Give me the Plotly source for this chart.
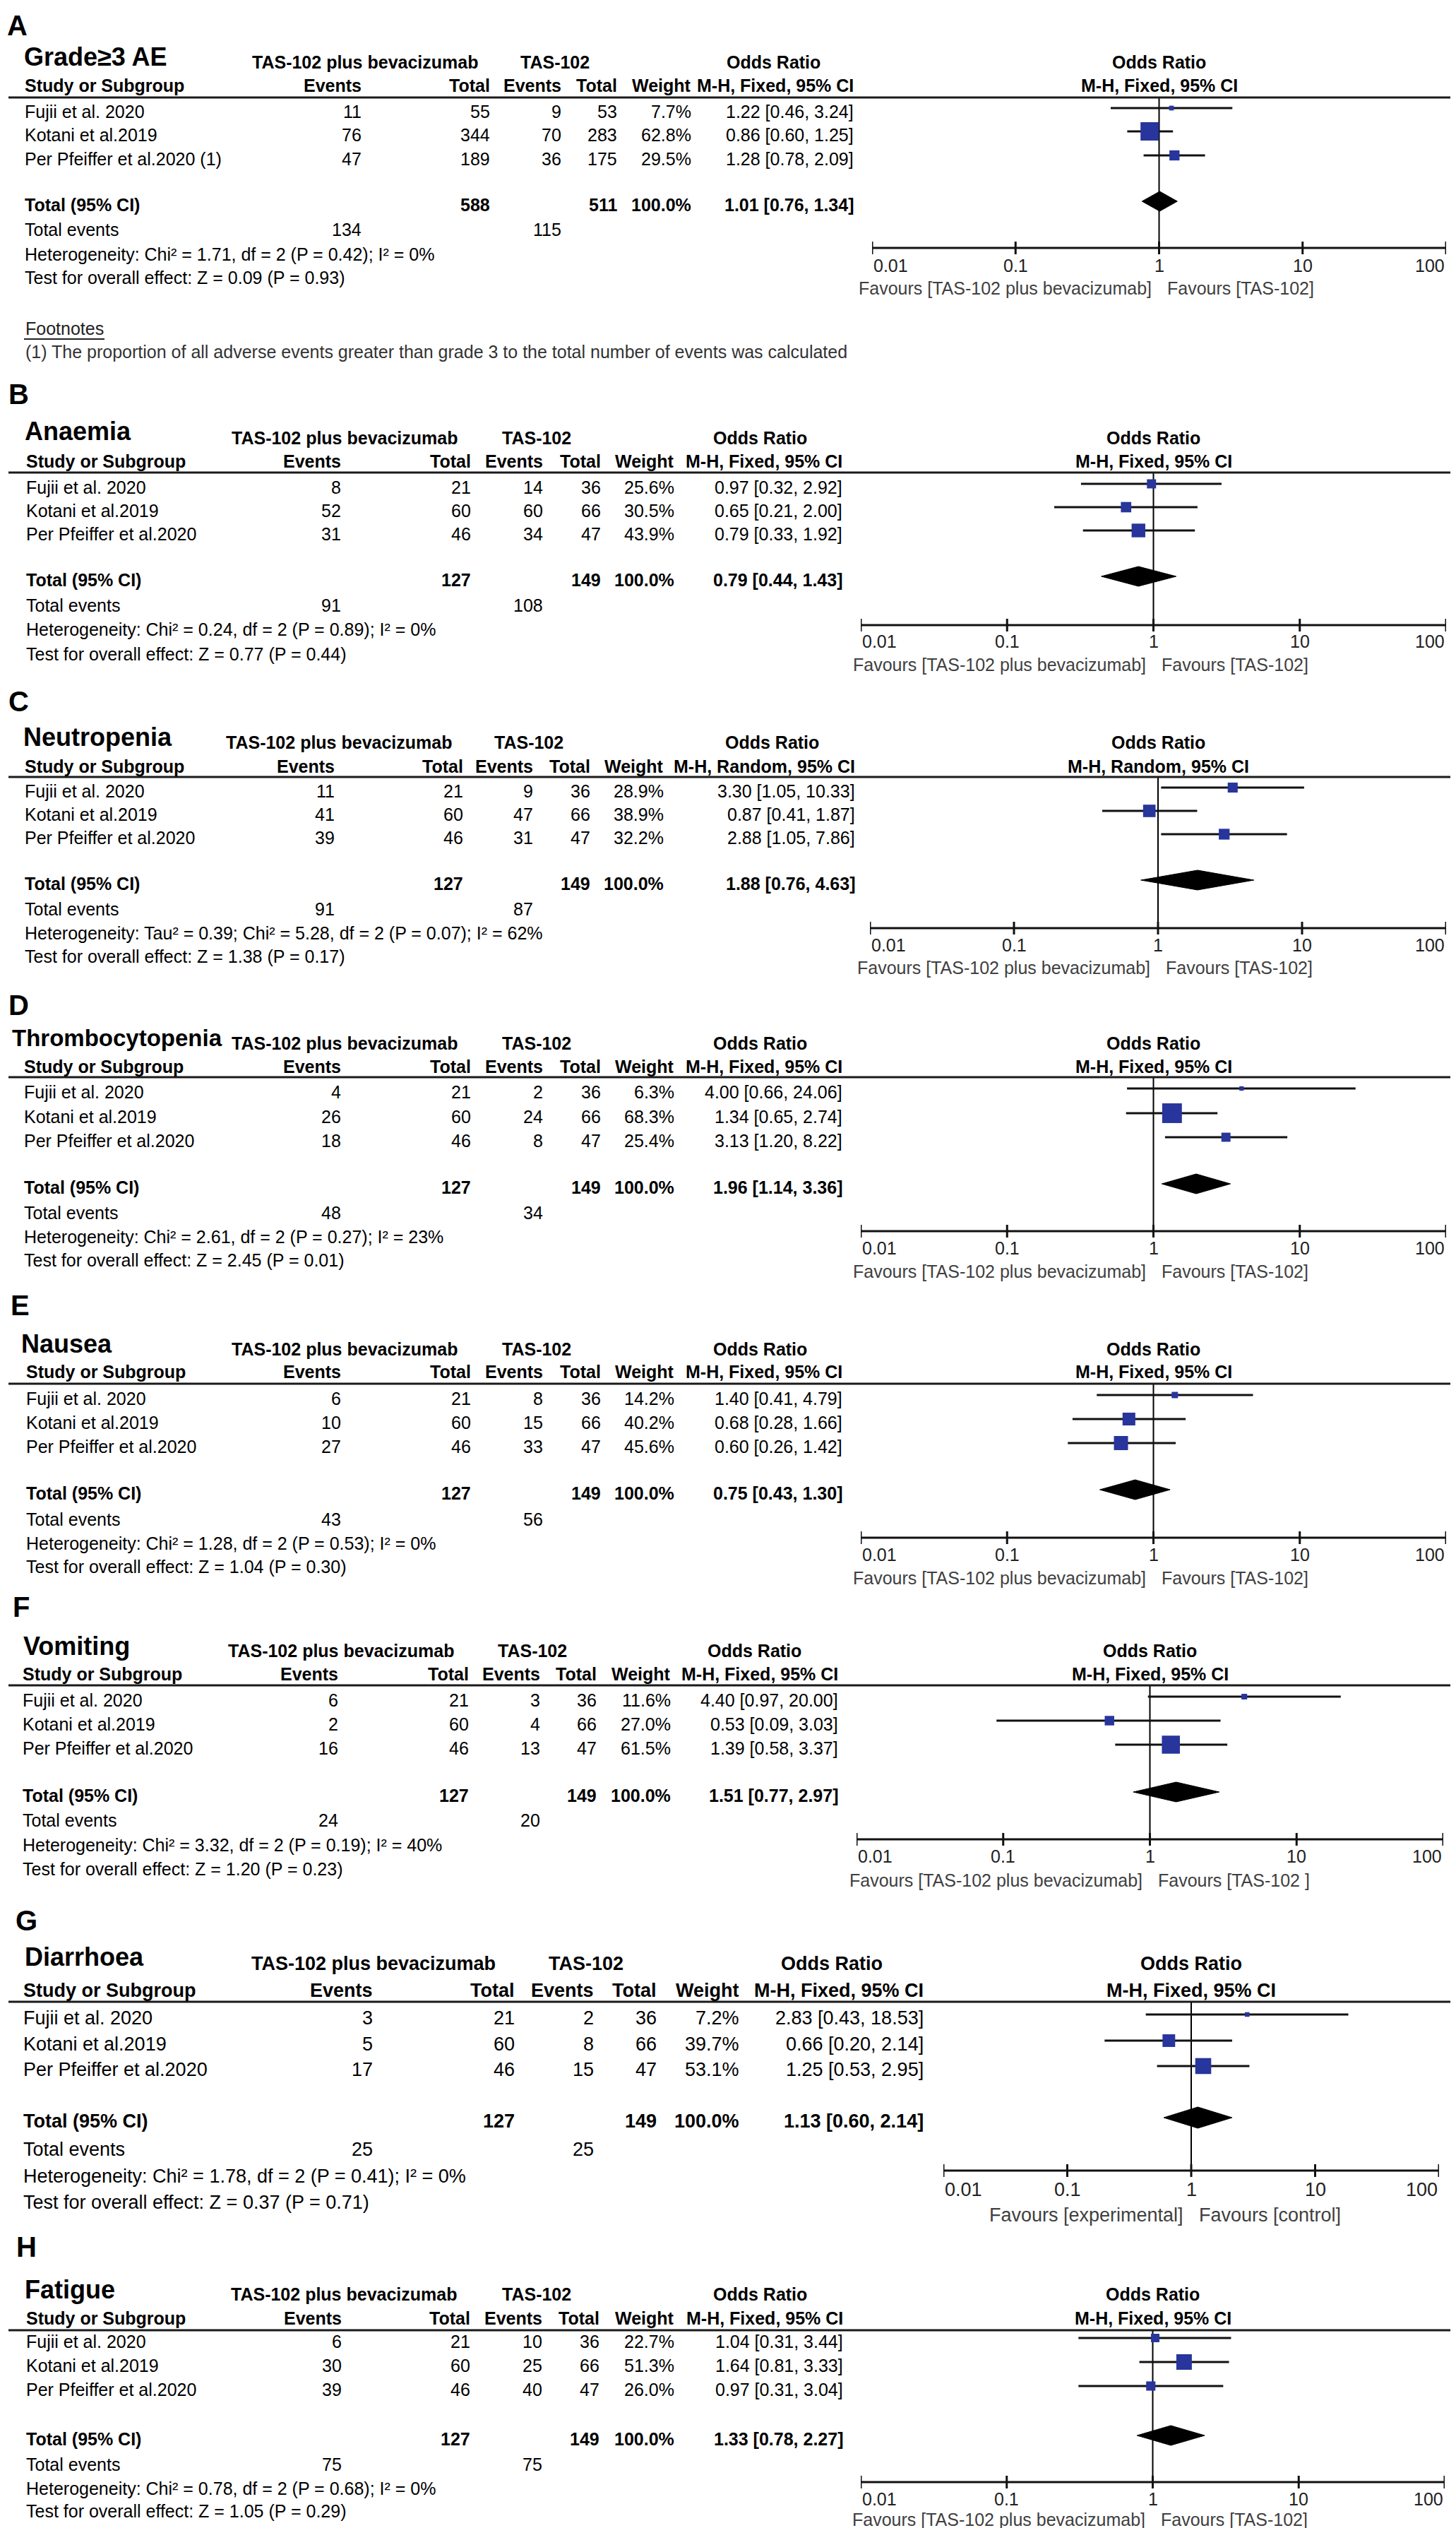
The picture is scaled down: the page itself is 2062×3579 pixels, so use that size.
import math
import plotly.graph_objects as go

W, H = 2062, 3579
FONT = "Liberation Sans, Arial, sans-serif"

# ---------------- data ----------------
panel_letters = ["A", "B", "C", "D", "E", "F", "G", "H"]
outcomes = ["Grade≥3 AE", "Anaemia", "Neutropenia", "Thrombocytopenia",
            "Nausea", "Vomiting", "Diarrhoea", "Fatigue"]
study_names = ["Fujii et al. 2020", "Kotani et al.2019", "Per Pfeiffer et al.2020"]
study_names_A = ["Fujii et al. 2020", "Kotani et al.2019", "Per Pfeiffer et al.2020 (1)"]

exp_events = [[11, 76, 47], [8, 52, 31], [11, 41, 39], [4, 26, 18],
              [6, 10, 27], [6, 2, 16], [3, 5, 17], [6, 30, 39]]
exp_totals = [[55, 344, 189], [21, 60, 46], [21, 60, 46], [21, 60, 46],
              [21, 60, 46], [21, 60, 46], [21, 60, 46], [21, 60, 46]]
ctl_events = [[9, 70, 36], [14, 60, 34], [9, 47, 31], [2, 24, 8],
              [8, 15, 33], [3, 4, 13], [2, 8, 15], [10, 25, 40]]
ctl_totals = [[53, 283, 175], [36, 66, 47], [36, 66, 47], [36, 66, 47],
              [36, 66, 47], [36, 66, 47], [36, 66, 47], [36, 66, 47]]
weights = [[7.7, 62.8, 29.5], [25.6, 30.5, 43.9], [28.9, 38.9, 32.2], [6.3, 68.3, 25.4],
           [14.2, 40.2, 45.6], [11.6, 27.0, 61.5], [7.2, 39.7, 53.1], [22.7, 51.3, 26.0]]
or_est = [[1.22, 0.86, 1.28], [0.97, 0.65, 0.79], [3.30, 0.87, 2.88], [4.00, 1.34, 3.13],
          [1.40, 0.68, 0.60], [4.40, 0.53, 1.39], [2.83, 0.66, 1.25], [1.04, 1.64, 0.97]]
or_lo = [[0.46, 0.60, 0.78], [0.32, 0.21, 0.33], [1.05, 0.41, 1.05], [0.66, 0.65, 1.20],
         [0.41, 0.28, 0.26], [0.97, 0.09, 0.58], [0.43, 0.20, 0.53], [0.31, 0.81, 0.31]]
or_hi = [[3.24, 1.25, 2.09], [2.92, 2.00, 1.92], [10.33, 1.87, 7.86], [24.06, 2.74, 8.22],
         [4.79, 1.66, 1.42], [20.00, 3.03, 3.37], [18.53, 2.14, 2.95], [3.44, 3.33, 3.04]]
pooled_or = [1.01, 0.79, 1.88, 1.96, 0.75, 1.51, 1.13, 1.33]
pooled_lo = [0.76, 0.44, 0.76, 1.14, 0.43, 0.77, 0.60, 0.78]
pooled_hi = [1.34, 1.43, 4.63, 3.36, 1.30, 2.97, 2.14, 2.27]
exp_total_n = [588, 127, 127, 127, 127, 127, 127, 127]
ctl_total_n = [511, 149, 149, 149, 149, 149, 149, 149]
exp_total_events = [134, 91, 91, 48, 43, 24, 25, 75]
ctl_total_events = [115, 108, 87, 34, 56, 20, 25, 75]
heterogeneity = [
    "Heterogeneity: Chi² = 1.71, df = 2 (P = 0.42); I² = 0%",
    "Heterogeneity: Chi² = 0.24, df = 2 (P = 0.89); I² = 0%",
    "Heterogeneity: Tau² = 0.39; Chi² = 5.28, df = 2 (P = 0.07); I² = 62%",
    "Heterogeneity: Chi² = 2.61, df = 2 (P = 0.27); I² = 23%",
    "Heterogeneity: Chi² = 1.28, df = 2 (P = 0.53); I² = 0%",
    "Heterogeneity: Chi² = 3.32, df = 2 (P = 0.19); I² = 40%",
    "Heterogeneity: Chi² = 1.78, df = 2 (P = 0.41); I² = 0%",
    "Heterogeneity: Chi² = 0.78, df = 2 (P = 0.68); I² = 0%",
]
overall_test = [
    "Test for overall effect: Z = 0.09 (P = 0.93)",
    "Test for overall effect: Z = 0.77 (P = 0.44)",
    "Test for overall effect: Z = 1.38 (P = 0.17)",
    "Test for overall effect: Z = 2.45 (P = 0.01)",
    "Test for overall effect: Z = 1.04 (P = 0.30)",
    "Test for overall effect: Z = 1.20 (P = 0.23)",
    "Test for overall effect: Z = 0.37 (P = 0.71)",
    "Test for overall effect: Z = 1.05 (P = 0.29)",
]
methods = ["M-H, Fixed, 95% CI", "M-H, Fixed, 95% CI", "M-H, Random, 95% CI", "M-H, Fixed, 95% CI",
           "M-H, Fixed, 95% CI", "M-H, Fixed, 95% CI", "M-H, Fixed, 95% CI", "M-H, Fixed, 95% CI"]
favours_left = ["Favours [TAS-102 plus bevacizumab]"] * 6 + ["Favours [experimental]",
                                                            "Favours [TAS-102 plus bevacizumab]"]
favours_right = ["Favours [TAS-102]"] * 5 + ["Favours [TAS-102 ]", "Favours [control]", "Favours [TAS-102]"]
tick_values = [0.01, 0.1, 1, 10, 100]
tick_labels = ["0.01", "0.1", "1", "10", "100"]
footnote = "(1) The proportion of all adverse events greater than grade 3 to the total number of events was calculated"

# ---------------- layout geometry (pixels) ----------------
geom = [
    dict(lab=(0, 28), tit=(24, 72, 36), h1=80, h2=113, line=126, rows=[150, 183, 217], total=282, tev=317,
         het=352, test=385, axis=343, tlab=368, fav=400, sx=25, cols=[506, 688, 789, 868, 973, 1203],
         tas=509, tas2=778, orh=1087, ax=(1227, 2040), fs=25),
    dict(lab=(2, 550), tit=(25, 602, 36), h1=612, h2=645, line=657, rows=[682, 715, 748], total=813, tev=849,
         het=883, test=918, axis=877, tlab=900, fav=933, sx=27, cols=[477, 661, 763, 845, 949, 1187],
         tas=480, tas2=752, orh=1068, ax=(1211, 2040), fs=25),
    dict(lab=(2, 985), tit=(23, 1035, 36), h1=1043, h2=1077, line=1088, rows=[1112, 1145, 1178], total=1243,
         tev=1279, het=1313, test=1346, axis=1306, tlab=1330, fav=1362, sx=25,
         cols=[468, 650, 749, 830, 934, 1205], tas=472, tas2=741, orh=1085, ax=(1224, 2040), fs=25),
    dict(lab=(2, 1415), tit=(7, 1461, 33), h1=1469, h2=1502, line=1513, rows=[1538, 1573, 1607], total=1673,
         tev=1709, het=1743, test=1776, axis=1735, tlab=1759, fav=1792, sx=24,
         cols=[477, 661, 763, 845, 949, 1187], tas=480, tas2=752, orh=1068, ax=(1211, 2040), fs=25),
    dict(lab=(5, 1840), tit=(20, 1894, 36), h1=1902, h2=1934, line=1947, rows=[1972, 2006, 2040], total=2106,
         tev=2143, het=2177, test=2210, axis=2169, tlab=2193, fav=2226, sx=27,
         cols=[477, 661, 763, 845, 949, 1187], tas=480, tas2=752, orh=1068, ax=(1211, 2040), fs=25),
    dict(lab=(8, 2267), tit=(23, 2322, 36), h1=2329, h2=2362, line=2374, rows=[2399, 2433, 2467], total=2534,
         tev=2569, het=2604, test=2638, axis=2596, tlab=2620, fav=2654, sx=22,
         cols=[473, 658, 759, 839, 944, 1181], tas=475, tas2=746, orh=1060, ax=(1205, 2036), fs=25),
    dict(lab=(12, 2711), tit=(25, 2762, 36), h1=2772, h2=2810, line=2822, rows=[2849, 2886, 2922], total=2995,
         tev=3035, het=3073, test=3110, axis=3065, tlab=3092, fav=3128, sx=23,
         cols=[522, 723, 835, 924, 1041, 1302], tas=521, tas2=822, orh=1170, ax=(1328, 2030), fs=27),
    dict(lab=(13, 3173), tit=(25, 3233, 36), h1=3240, h2=3274, line=3287, rows=[3307, 3341, 3375], total=3445,
         tev=3481, het=3515, test=3547, axis=3506, tlab=3530, fav=3559, sx=27,
         cols=[478, 660, 762, 843, 949, 1188], tas=479, tas2=752, orh=1068, ax=(1211, 2038), fs=25),
]

BLUE = "#27359c"
GREY = "#404040"

fig = go.Figure()
anns = []
shapes = []


def txt(s, x, y, anchor="left", size=25, bold=False, color="#000000"):
    anns.append(dict(text=(f"<b>{s}</b>" if bold else s), x=x / W, y=y, xref="paper", yref="y",
                     xanchor=anchor, yanchor="middle", showarrow=False,
                     font=dict(size=size, color=color, family=FONT)))


layout_axes = {}
for k in range(8):
    g = geom[k]
    fs = g["fs"]
    xa = "x" if k == 0 else f"x{k + 1}"
    xkey = "xaxis" if k == 0 else f"xaxis{k + 1}"
    layout_axes[xkey] = dict(type="log", range=[-2, 2], domain=[g["ax"][0] / W, g["ax"][1] / W],
                             anchor="y", visible=False, fixedrange=True)
    names = study_names_A if k == 0 else study_names

    # panel letter and title
    txt(panel_letters[k], g["lab"][0], g["lab"][1], size=40, bold=True)
    txt(outcomes[k], g["tit"][0], g["tit"][1], size=g["tit"][2], bold=True)

    # column headers
    c = g["cols"]
    txt("TAS-102 plus bevacizumab", g["tas"], g["h1"], "center", fs, True)
    txt("TAS-102", g["tas2"], g["h1"], "center", fs, True)
    txt("Odds Ratio", g["orh"], g["h1"], "center", fs, True)
    txt("Study or Subgroup", g["sx"], g["h2"], "left", fs, True)
    txt("Events", c[0], g["h2"], "right", fs, True)
    txt("Total", c[1], g["h2"], "right", fs, True)
    txt("Events", c[2], g["h2"], "right", fs, True)
    txt("Total", c[3], g["h2"], "right", fs, True)
    txt("Weight", c[4], g["h2"], "right", fs, True)
    txt(methods[k], c[5], g["h2"], "right", fs, True)
    # forest column headers
    for s, yy in [("Odds Ratio", g["h1"]), (methods[k], g["h2"])]:
        anns.append(dict(text=f"<b>{s}</b>", x=0, y=yy, xref=xa, yref="y", xanchor="center", yanchor="middle",
                         showarrow=False, font=dict(size=fs, color="#000", family=FONT)))
    shapes.append(dict(type="line", xref="paper", yref="y", x0=4 / W, x1=1, y0=g["line"] + 4, y1=g["line"] + 4,
                       line=dict(color="#1a1a1a", width=3)))

    # study rows
    for i in range(3):
        yy = g["rows"][i]
        txt(names[i], g["sx"], yy, "left", fs)
        txt(str(exp_events[k][i]), c[0], yy, "right", fs)
        txt(str(exp_totals[k][i]), c[1], yy, "right", fs)
        txt(str(ctl_events[k][i]), c[2], yy, "right", fs)
        txt(str(ctl_totals[k][i]), c[3], yy, "right", fs)
        txt(f"{weights[k][i]:.1f}%", c[4], yy, "right", fs)
        txt(f"{or_est[k][i]:.2f} [{or_lo[k][i]:.2f}, {or_hi[k][i]:.2f}]", c[5], yy, "right", fs)

    # totals
    txt("Total (95% CI)", g["sx"], g["total"], "left", fs, True)
    txt(str(exp_total_n[k]), c[1], g["total"], "right", fs, True)
    txt(str(ctl_total_n[k]), c[3], g["total"], "right", fs, True)
    txt("100.0%", c[4], g["total"], "right", fs, True)
    txt(f"{pooled_or[k]:.2f} [{pooled_lo[k]:.2f}, {pooled_hi[k]:.2f}]", c[5], g["total"], "right", fs, True)
    txt("Total events", g["sx"], g["tev"], "left", fs)
    txt(str(exp_total_events[k]), c[0], g["tev"], "right", fs)
    txt(str(ctl_total_events[k]), c[2], g["tev"], "right", fs)
    txt(heterogeneity[k], g["sx"], g["het"], "left", fs)
    txt(overall_test[k], g["sx"], g["test"], "left", fs)

    # ---- forest plot marks ----
    # line of no effect
    fig.add_trace(go.Scatter(x=[1, 1], y=[g["line"] + 5, g["axis"]], xaxis=xa, yaxis="y", mode="lines",
                             line=dict(color="#000", width=2), hoverinfo="skip", showlegend=False))
    # confidence intervals
    cx, cy = [], []
    for i in range(3):
        yy = g["rows"][i] - 5
        cx += [or_lo[k][i], or_hi[k][i], None]
        cy += [yy, yy, None]
    fig.add_trace(go.Scatter(x=cx, y=cy, xaxis=xa, yaxis="y", mode="lines",
                             line=dict(color="#111", width=3), hoverinfo="skip", showlegend=False))
    # study squares (size from weight)
    fig.add_trace(go.Scatter(x=or_est[k], y=[r - 5 for r in g["rows"]], xaxis=xa, yaxis="y", mode="markers",
                             marker=dict(symbol="square", color=BLUE, opacity=1,
                                         size=[4 + 0.35 * w for w in weights[k]], line=dict(width=0)),
                             hoverinfo="skip", showlegend=False, cliponaxis=False))
    # pooled diamond
    yd = g["total"] - 5
    hh = 14 if k != 6 else 15
    fig.add_trace(go.Scatter(x=[pooled_lo[k], pooled_or[k], pooled_hi[k], pooled_or[k], pooled_lo[k]],
                             y=[yd, yd - hh, yd, yd + hh, yd], xaxis=xa, yaxis="y", mode="lines",
                             fill="toself", fillcolor="#000", line=dict(color="#000", width=1),
                             hoverinfo="skip", showlegend=False))
    # axis line and ticks
    axx = [tick_values[0], tick_values[-1], None]
    axy = [g["axis"], g["axis"], None]
    for t in tick_values:
        axx += [t, t, None]
        axy += [g["axis"] - 9, g["axis"] + 9, None]
    fig.add_trace(go.Scatter(x=axx, y=axy, xaxis=xa, yaxis="y", mode="lines",
                             line=dict(color="#111", width=3), hoverinfo="skip", showlegend=False))
    for j, (t, lab) in enumerate(zip(tick_values, tick_labels)):
        anc = "left" if j == 0 else ("right" if j == len(tick_values) - 1 else "center")
        anns.append(dict(text=lab, x=math.log10(t), y=g["tlab"], xref=xa, yref="y", xanchor=anc,
                         yanchor="middle", showarrow=False, font=dict(size=fs, color="#222", family=FONT)))
    anns.append(dict(text=favours_left[k], x=0, y=g["fav"], xref=xa, yref="y", xanchor="right", xshift=-9,
                     yanchor="middle", showarrow=False, font=dict(size=fs, color=GREY, family=FONT)))
    anns.append(dict(text=favours_right[k], x=0, y=g["fav"], xref=xa, yref="y", xanchor="left", xshift=9,
                     yanchor="middle", showarrow=False, font=dict(size=fs, color=GREY, family=FONT)))

# footnotes of panel A
txt("Footnotes", 26, 457, "left", 25, False, "#222")
shapes.append(dict(type="line", xref="paper", yref="y", x0=26 / W, x1=140 / W, y0=472, y1=472,
                   line=dict(color="#222", width=2)))
txt(footnote, 26, 490, "left", 25, False, "#333")

fig.update_layout(
    width=W, height=H, margin=dict(l=0, r=0, t=0, b=0),
    paper_bgcolor="white", plot_bgcolor="rgba(0,0,0,0)",
    yaxis=dict(range=[H, 0], domain=[0, 1], visible=False, fixedrange=True),
    annotations=anns, shapes=shapes, showlegend=False,
    **layout_axes,
)
fig.write_html("out.html")
